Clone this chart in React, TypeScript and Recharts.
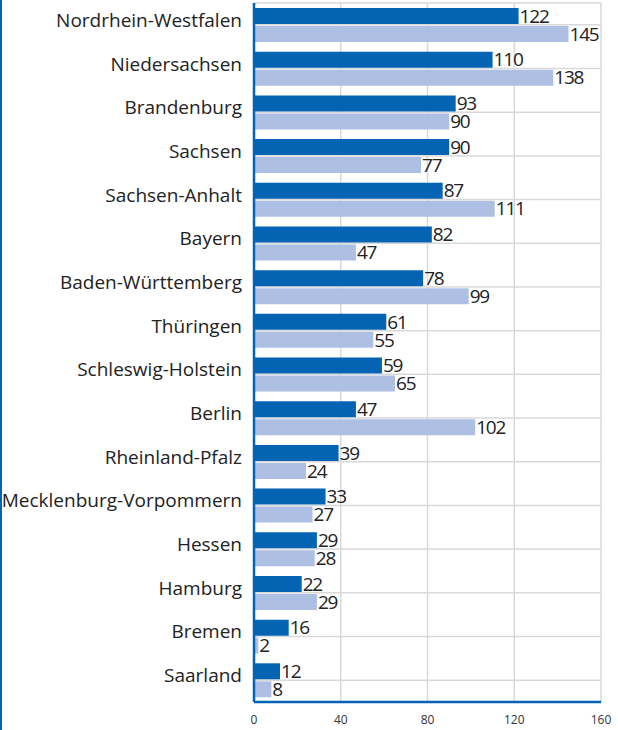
import React from "react";
import { BarChart, Bar, XAxis, YAxis, CartesianGrid, LabelList } from "recharts";

const states = [
  "Nordrhein-Westfalen",
  "Niedersachsen",
  "Brandenburg",
  "Sachsen",
  "Sachsen-Anhalt",
  "Bayern",
  "Baden-Württemberg",
  "Thüringen",
  "Schleswig-Holstein",
  "Berlin",
  "Rheinland-Pfalz",
  "Mecklenburg-Vorpommern",
  "Hessen",
  "Hamburg",
  "Bremen",
  "Saarland",
];
const seriesA = [122, 110, 93, 90, 87, 82, 78, 61, 59, 47, 39, 33, 29, 22, 16, 12];
const seriesB = [145, 138, 90, 77, 111, 47, 99, 55, 65, 102, 24, 27, 28, 29, 2, 8];
const xTicks = [0, 40, 80, 120, 160];

const data = states.map((name, i) => ({ name, a: seriesA[i], b: seriesB[i] }));

const DARK = "#0563b3";
const LIGHT = "#adc0e4";
const FONT = "'Open Sans', sans-serif";
const valueStyle = { fontSize: 19, fill: "#222", fontFamily: FONT, letterSpacing: -1.2 };

const CategoryTick = (props: any) => {
  const { x, y, payload } = props;
  return (
    <text
      x={x}
      y={y}
      dy={2}
      textAnchor="end"
      fontSize={19}
      fill="#222"
      fontFamily={FONT}
    >
      {payload.value}
    </text>
  );
};

export default function App() {
  return (
    <div
      style={{
        position: "absolute",
        left: 0,
        top: 0,
        width: 618,
        height: 730,
        background: "#fff",
        borderLeft: `2px solid ${DARK}`,
        boxSizing: "border-box",
      }}
    >
      <div style={{ position: "absolute", left: -2, top: 0 }}>
        <BarChart
          width={618}
          height={730}
          data={data}
          layout="vertical"
          margin={{ top: 3, right: 17, bottom: 0, left: 0 }}
          barSize={16}
          barGap={2}
        >
          <CartesianGrid stroke="#d9d9d9" strokeWidth={1.5} />
          <XAxis
            type="number"
            domain={[0, 160]}
            ticks={xTicks}
            height={28}
            tickLine={false}
            axisLine={{ stroke: DARK, strokeWidth: 2.5 }}
            tick={{ fontSize: 12, fill: "#333", fontFamily: FONT }}
            tickMargin={7}
          />
          <YAxis
            type="category"
            dataKey="name"
            width={254}
            tickLine={false}
            axisLine={{ stroke: DARK, strokeWidth: 2.5 }}
            tick={<CategoryTick />}
            tickMargin={6}
            interval={0}
          />
          <Bar dataKey="a" fill={DARK} isAnimationActive={false}>
            <LabelList dataKey="a" position="right" offset={1} style={valueStyle} />
          </Bar>
          <Bar dataKey="b" fill={LIGHT} isAnimationActive={false}>
            <LabelList dataKey="b" position="right" offset={1} style={valueStyle} />
          </Bar>
        </BarChart>
      </div>
    </div>
  );
}
